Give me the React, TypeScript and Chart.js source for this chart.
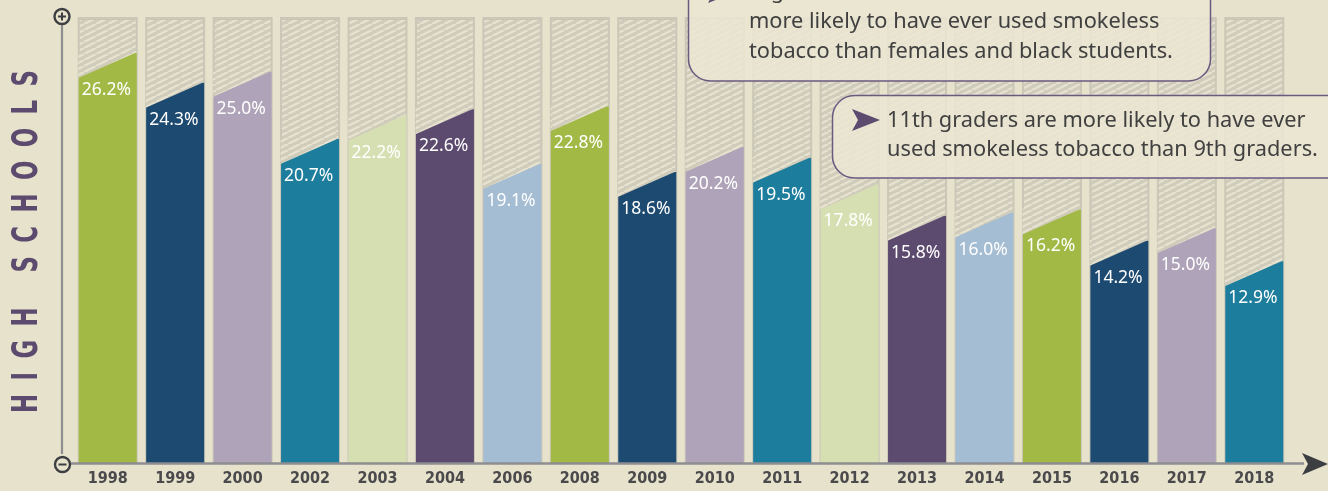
import React, { useEffect, useRef } from 'react';
import { Chart, registerables } from 'chart.js';

Chart.register(...registerables);

const years = ['1998', '1999', '2000', '2002', '2003', '2004', '2006', '2008', '2009', '2010', '2011', '2012', '2013', '2014', '2015', '2016', '2017', '2018'];
const values = [26.2, 24.3, 25.0, 20.7, 22.2, 22.6, 19.1, 22.8, 18.6, 20.2, 19.5, 17.8, 15.8, 16.0, 16.2, 14.2, 15.0, 12.9];
const palette = ['#a3b946', '#1d4a70', '#aea3b8', '#1d7d9c', '#d6dfb1', '#5c4a6f', '#a5bdd3'];
const barColors = years.map((_, i) => palette[i % palette.length]);
const axisTitle = 'HIGH SCHOOLS';
const callout1 = [
  'High school males and white students are',
  'more likely to have ever used smokeless',
  'tobacco than females and black students.',
];
const callout2 = [
  '11th graders are more likely to have ever',
  'used smokeless tobacco than 9th graders.',
];

const BG = '#e7e2cb';
const PURPLE = '#5c4a6f';
const DARK = '#3d3e42';
const TEXT = '#404040';
const SLANT = 25;

function makePattern(ctx: CanvasRenderingContext2D) {
  const w = 12, h = 6;
  const c = document.createElement('canvas');
  c.width = w; c.height = h;
  const p = c.getContext('2d')!;
  p.fillStyle = '#d0ccbb';
  p.fillRect(0, 0, w, h);
  p.strokeStyle = '#e6e2cf';
  p.lineWidth = 2.4;
  for (const dx of [-w, 0, w]) {
    p.beginPath();
    p.moveTo(dx, h);
    p.lineTo(dx + w, 0);
    p.stroke();
  }
  return ctx.createPattern(c, 'repeat')!;
}

function fitSize(ctx: CanvasRenderingContext2D, text: string, family: string, weight: string, target: number) {
  ctx.font = `${weight} 20px ${family}`;
  const w = ctx.measureText(text).width;
  return (20 * target) / w;
}

function drawArrow(ctx: CanvasRenderingContext2D, x: number, cy: number) {
  ctx.beginPath();
  ctx.moveTo(x, cy - 11);
  ctx.lineTo(x + 28, cy);
  ctx.lineTo(x, cy + 11);
  ctx.lineTo(x + 6, cy);
  ctx.closePath();
  ctx.fillStyle = PURPLE;
  ctx.fill();
}

const decor = {
  id: 'decor',
  beforeDraw(chart: any) {
    const ctx = chart.ctx as CanvasRenderingContext2D;
    ctx.save();
    ctx.fillStyle = BG;
    ctx.fillRect(0, 0, chart.width, chart.height);
    ctx.restore();
  },
  beforeDatasetsDraw(chart: any) {
    const ctx = chart.ctx as CanvasRenderingContext2D;
    const pat = makePattern(ctx);
    (chart as any).$pat = pat;
    const meta = chart.getDatasetMeta(0);
    const top = chart.chartArea.top;
    ctx.save();
    meta.data.forEach((el: any) => {
      const half = el.width / 2 + 1;
      const base = el.base;
      ctx.fillStyle = '#cac7b8';
      ctx.fillRect(el.x - half, top, half * 2, base - top);
      ctx.fillStyle = pat;
      ctx.fillRect(el.x - half + 2, top + 3, half * 2 - 4, base - top - 3);
    });
    ctx.restore();
  },
  afterDatasetsDraw(chart: any) {
    const ctx = chart.ctx as CanvasRenderingContext2D;
    const pat = (chart as any).$pat || makePattern(ctx);
    const meta = chart.getDatasetMeta(0);
    const area = chart.chartArea;
    ctx.save();
    // slanted tops
    meta.data.forEach((el: any) => {
      const l = el.x - el.width / 2;
      const r = el.x + el.width / 2;
      ctx.beginPath();
      ctx.moveTo(l - 0.5, el.y - 1);
      ctx.lineTo(r + 0.5, el.y - 1);
      ctx.lineTo(l - 0.5, el.y + SLANT);
      ctx.closePath();
      ctx.fillStyle = pat;
      ctx.fill();
    });
    // value labels
    ctx.fillStyle = '#ffffff';
    ctx.textBaseline = 'middle';
    ctx.textAlign = 'left';
    ctx.font = '400 17.5px "Noto Sans", sans-serif';
    meta.data.forEach((el: any, i: number) => {
      const l = el.x - el.width / 2;
      ctx.fillText(values[i].toFixed(1) + '%', l + 3, el.y + SLANT + 12);
    });

    // axes
    const base = area.bottom;
    const yx = 62;
    ctx.strokeStyle = '#8e8e90';
    ctx.lineWidth = 2.2;
    ctx.beginPath();
    ctx.moveTo(yx, 25);
    ctx.lineTo(yx, base - 9);
    ctx.stroke();
    ctx.lineWidth = 2.6;
    ctx.beginPath();
    ctx.moveTo(yx + 9, base + 0.5);
    ctx.lineTo(1304, base + 0.5);
    ctx.stroke();
    // arrow head
    ctx.fillStyle = DARK;
    ctx.beginPath();
    ctx.moveTo(1302, base - 10);
    ctx.lineTo(1328, base + 1);
    ctx.lineTo(1302, base + 12);
    ctx.lineTo(1308, base + 1);
    ctx.closePath();
    ctx.fill();
    // circles
    ctx.strokeStyle = DARK;
    ctx.lineWidth = 2.4;
    ctx.fillStyle = BG;
    for (const [cx, cy, plus] of [[yx, 16.5, true], [yx + 0.5, base + 1.5, false]] as any) {
      ctx.beginPath();
      ctx.arc(cx, cy, 7.5, 0, Math.PI * 2);
      ctx.fill();
      ctx.stroke();
      ctx.lineWidth = 2;
      ctx.beginPath();
      ctx.moveTo(cx - 4, cy);
      ctx.lineTo(cx + 4, cy);
      if (plus) {
        ctx.moveTo(cx, cy - 4);
        ctx.lineTo(cx, cy + 4);
      }
      ctx.stroke();
      ctx.lineWidth = 2.4;
    }

    // vertical title
    ctx.save();
    ctx.fillStyle = PURPLE;
    ctx.font = '700 30px "DejaVu Sans", sans-serif';
    (ctx as any).letterSpacing = '0px';
    const natural = ctx.measureText(axisTitle).width;
    const sx = 0.76;
    const spacing = (343 / sx - natural) / (axisTitle.length - 1);
    (ctx as any).letterSpacing = `${spacing}px`;
    const total = natural + spacing * (axisTitle.length - 1);
    ctx.translate(26.5, 241.5);
    ctx.rotate(-Math.PI / 2);
    ctx.scale(sx, 1.18);
    ctx.textBaseline = 'middle';
    ctx.textAlign = 'left';
    ctx.fillText(axisTitle, -total / 2, 1);
    ctx.restore();

    // callouts
    const fam = '"Noto Sans", sans-serif';
    const fs = fitSize(ctx, callout2[1], fam, '400', 431);
    ctx.font = `400 ${fs}px ${fam}`;
    ctx.lineWidth = 1.5;
    ctx.strokeStyle = '#6a5a80';
    ctx.fillStyle = 'rgba(235,231,211,0.86)';
    ctx.beginPath();
    (ctx as any).roundRect(688.5, -40, 522, 121, 22);
    ctx.fill();
    ctx.stroke();
    ctx.beginPath();
    (ctx as any).roundRect(832.5, 95.5, 520, 82.5, 22);
    ctx.fill();
    ctx.stroke();
    drawArrow(ctx, 708, -8);
    drawArrow(ctx, 852, 120);
    ctx.fillStyle = TEXT;
    ctx.textBaseline = 'middle';
    ctx.textAlign = 'left';
    callout1.forEach((t, i) => ctx.fillText(t, 749, -8 + i * 30));
    callout2.forEach((t, i) => ctx.fillText(t, 887, 121 + i * 29));
    ctx.restore();
  },
};

export default function App() {
  const ref = useRef<HTMLCanvasElement | null>(null);
  useEffect(() => {
    document.body.style.margin = '0';
    document.body.style.background = BG;
    const canvas = ref.current!;
    const chart = new Chart(canvas, {
      type: 'bar',
      data: {
        labels: years,
        datasets: [
          {
            data: values,
            backgroundColor: barColors,
            borderWidth: 0,
            barPercentage: 0.86,
            categoryPercentage: 1,
          },
        ],
      },
      options: {
        animation: false,
        responsive: false,
        devicePixelRatio: 1,
        layout: { padding: { left: 74, right: 40, top: 17, bottom: 0 } },
        plugins: { legend: { display: false }, tooltip: { enabled: false } },
        scales: {
          x: {
            grid: { display: false, drawTicks: false },
            border: { display: false },
            afterFit: (s: any) => { s.height = 28; },
            ticks: {
              autoSkip: false,
              maxRotation: 0,
              padding: 6,
              color: '#4a4a4c',
              font: { family: "'Liberation Sans Narrow', 'DejaVu Sans Condensed', sans-serif", weight: 'bold', size: 16 },
            },
          },
          y: { display: false, min: 0, max: 28.5 },
        },
      },
      plugins: [decor],
    });
    return () => chart.destroy();
  }, []);
  return (
    <div style={{ width: 1328, height: 491 }}>
      <canvas ref={ref} width={1328} height={491} style={{ display: 'block', width: 1328, height: 491 }} />
    </div>
  );
}
